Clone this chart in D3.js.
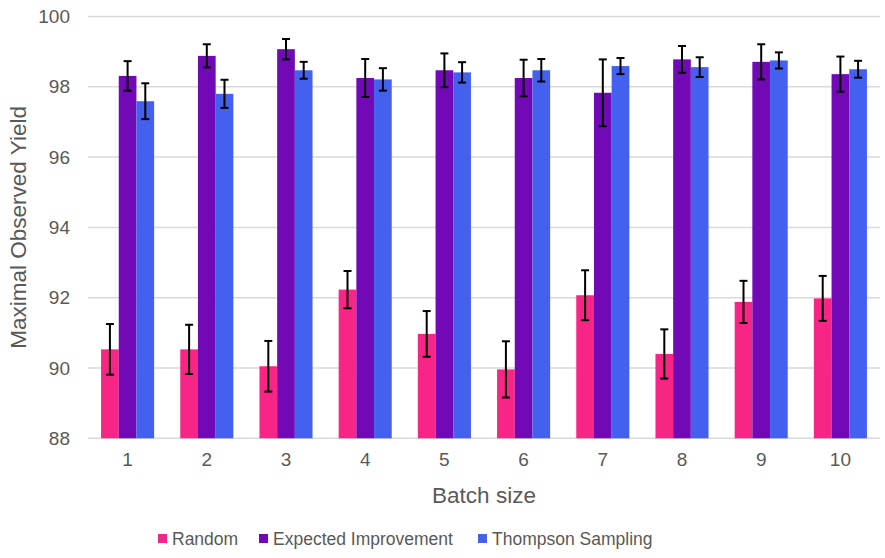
<!DOCTYPE html>
<html><head><meta charset="utf-8">
<script src="https://cdn.jsdelivr.net/npm/d3@7"></script>
<style>html,body{margin:0;padding:0;background:#fff;}svg{display:block;font-family:"Liberation Sans",Arial,sans-serif;}</style>
</head><body><svg id="c" width="885" height="558"></svg>
<script>
const categories = ["1","2","3","4","5","6","7","8","9","10"];
const seriesNames = ["Random","Expected Improvement","Thompson Sampling"];
const colors = ["#f72585","#7209b7","#4361ee"];
const randomVals = [90.53,90.53,90.05,92.23,90.97,89.96,92.07,90.40,91.88,91.98];
const randomErr  = [0.72,0.70,0.72,0.53,0.65,0.80,0.71,0.70,0.60,0.64];
const eiVals = [98.31,98.88,99.07,98.25,98.47,98.25,97.83,98.78,98.71,98.36];
const eiErr  = [0.42,0.33,0.29,0.54,0.48,0.52,0.95,0.38,0.50,0.50];
const tsVals = [97.59,97.80,98.47,98.21,98.41,98.47,98.59,98.56,98.75,98.50];
const tsErr  = [0.51,0.40,0.24,0.32,0.29,0.32,0.23,0.28,0.23,0.24];
const yTicks = [88,90,92,94,96,98,100];

const svals = [randomVals, eiVals, tsVals];
const serrs = [randomErr, eiErr, tsErr];

const svg = d3.select("#c");
const x = d3.scaleBand().domain(categories).range([88, 880]).paddingInner(0.33).paddingOuter(0.165);
const xs = d3.scaleBand().domain(seriesNames).range([0, x.bandwidth()]);
const y = d3.scaleLinear().domain([88,100]).range([438.3, 16.5]);

// gridlines
svg.append("g").selectAll("line").data(yTicks).join("line")
  .attr("x1",88).attr("x2",880).attr("y1",d=>y(d)).attr("y2",d=>y(d))
  .attr("stroke","#d9d9d9").attr("stroke-width",1.5);

// y axis labels
const yAxis = d3.axisLeft(y).tickValues(yTicks).tickSize(0).tickPadding(18);
const ya = svg.append("g").attr("transform","translate(88,0)").call(yAxis);
ya.select(".domain").remove();
ya.selectAll("text").attr("font-size",19).attr("fill","#595959").attr("font-family","Liberation Sans, Arial, sans-serif");

// x axis labels
const xAxis = d3.axisBottom(x).tickSize(0).tickPadding(14);
const xa = svg.append("g").attr("transform",`translate(0,${y(88)})`).call(xAxis);
xa.select(".domain").remove();
xa.selectAll("text").attr("font-size",19).attr("fill","#595959").attr("font-family","Liberation Sans, Arial, sans-serif");

// bars
const data = [];
categories.forEach((c,i)=>seriesNames.forEach((s,j)=>data.push({c,s,j,v:svals[j][i],e:serrs[j][i]})));
svg.append("g").selectAll("rect").data(data).join("rect")
  .attr("x",d=>x(d.c)+xs(d.s)).attr("width",xs.bandwidth())
  .attr("y",d=>y(d.v)).attr("height",d=>y(88)-y(d.v))
  .attr("fill",d=>colors[d.j]);

// error bars
const eb = svg.append("g").attr("stroke","#000").attr("stroke-width",2);
data.forEach(d=>{
  const cx = x(d.c)+xs(d.s)+xs.bandwidth()/2;
  const y1 = y(d.v+d.e), y2 = y(d.v-d.e);
  eb.append("line").attr("x1",cx).attr("x2",cx).attr("y1",y1).attr("y2",y2);
  eb.append("line").attr("x1",cx-4).attr("x2",cx+4).attr("y1",y1).attr("y2",y1);
  eb.append("line").attr("x1",cx-4).attr("x2",cx+4).attr("y1",y2).attr("y2",y2);
});

// axis titles
svg.append("text").attr("x",484).attr("y",503).attr("text-anchor","middle")
  .attr("font-size",22.5).attr("fill","#595959").text("Batch size");
svg.append("text").attr("transform",`translate(26,${(y(88)+y(100))/2}) rotate(-90)`)
  .attr("text-anchor","middle").attr("font-size",22.5).attr("fill","#595959").text("Maximal Observed Yield");

// legend
const legX = [158, 259, 478];
const lg = svg.append("g");
seriesNames.forEach((s,j)=>{
  lg.append("rect").attr("x",legX[j]).attr("y",534).attr("width",9).attr("height",9).attr("fill",colors[j]);
  lg.append("text").attr("x",legX[j]+14).attr("y",545).attr("font-size",17.5).attr("fill","#595959").text(s);
});
</script></body></html>
